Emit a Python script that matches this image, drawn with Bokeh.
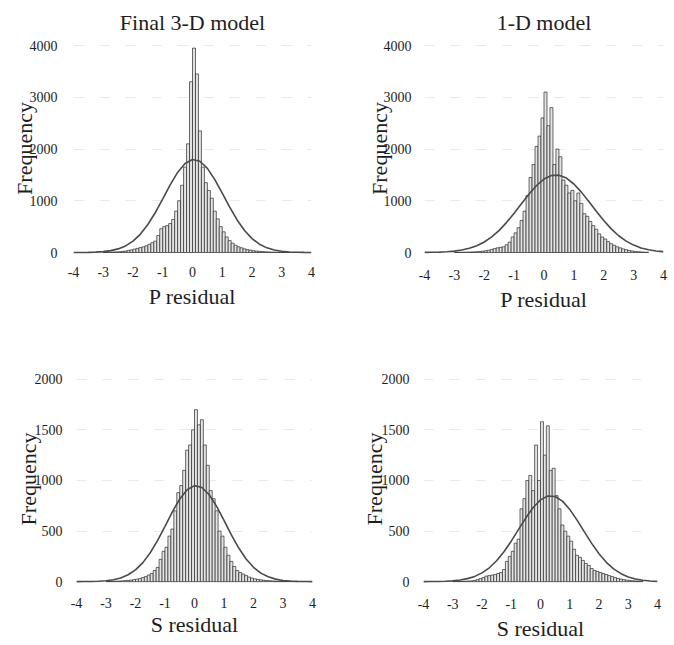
import numpy as np
from bokeh.plotting import figure
from bokeh.layouts import column, row
from bokeh.models import FixedTicker, Range1d
from bokeh.embed import file_html
from bokeh.resources import INLINE

# ---------------- data ----------------
titles = ["Final 3-D model", "1-D model", "", ""]
xlabels = ["P residual", "P residual", "S residual", "S residual"]
x_ticks = [-4, -3, -2, -1, 0, 1, 2, 3, 4]
y_ticks_p = [0, 1000, 2000, 3000, 4000]
y_ticks_s = [0, 500, 1000, 1500, 2000]

# histogram bins of width 0.1, centres -2.95 ... 3.45
bin_width = 0.1
bin_centers = np.round(np.arange(-2.95, 3.46, 0.1), 2)

p_final3d_counts = [5, 6, 8, 10, 12, 15, 20, 28, 40, 50,
                    65, 80, 95, 110, 130, 160, 190, 220, 330, 460,
                    500, 520, 560, 640, 800, 1000, 1300, 1650, 2100, 3300,
                    3950, 3450, 2350, 1650, 1350, 1200, 1050, 800, 650, 500,
                    400, 300, 230, 180, 140, 110, 90, 70, 55, 45,
                    35, 28, 22, 18, 14, 11, 9, 7, 6, 5,
                    4, 3, 3, 2, 2]
p_1d_counts = [3, 4, 5, 6, 8, 10, 12, 15, 20, 25,
               35, 45, 60, 75, 90, 100, 110, 150, 200, 300,
               380, 480, 620, 800, 1100, 1450, 1700, 2050, 2250, 2600,
               3100, 2450, 2800, 1700, 2000, 1850, 1400, 1300, 1150, 1200,
               1000, 1150, 950, 750, 700, 600, 520, 450, 360, 300,
               260, 210, 170, 140, 110, 90, 70, 55, 40, 30,
               22, 16, 11, 8, 6]
s_final3d_counts = [3, 3, 4, 5, 6, 8, 10, 12, 15, 20,
                    25, 30, 40, 50, 65, 80, 110, 140, 220, 300,
                    340, 450, 520, 700, 880, 950, 1100, 1300, 1350, 1500,
                    1700, 1550, 1600, 1350, 1150, 900, 820, 700, 500, 450,
                    340, 260, 200, 150, 110, 90, 75, 60, 45, 35,
                    28, 22, 18, 14, 11, 9, 7, 5, 4, 3,
                    3, 2, 2, 1, 1]
s_1d_counts = [2, 3, 3, 4, 5, 6, 8, 12, 20, 30,
               40, 55, 60, 65, 70, 80, 90, 120, 200, 250,
               300, 380, 420, 720, 820, 1000, 1050, 900, 1350, 1000,
               1580, 1250, 1540, 1100, 1120, 850, 720, 560, 500, 450,
               400, 320, 260, 240, 210, 180, 160, 130, 110, 100,
               90, 80, 70, 60, 50, 40, 32, 25, 20, 15,
               12, 9, 7, 5, 4]

# fitted normal curves, read at x = -4, -3.75, ..., 4
curve_x = [-4, -3.75, -3.5, -3.25, -3, -2.75, -2.5, -2.25, -2, -1.75, -1.5,
           -1.25, -1, -0.75, -0.5, -0.25, 0, 0.25, 0.5, 0.75, 1, 1.25, 1.5,
           1.75, 2, 2.25, 2.5, 2.75, 3, 3.25, 3.5, 3.75, 4]
p_final3d_curve = [0, 1, 3, 8, 17, 36, 70, 128, 220, 356, 541, 773, 1037, 1307,
                   1548, 1721, 1798, 1764, 1627, 1409, 1146, 876, 629, 424, 269,
                   160, 90, 47, 23, 11, 5, 2, 1]
p_1d_curve = [2, 4, 8, 15, 27, 48, 81, 131, 203, 301, 428, 583, 759, 948, 1132,
              1295, 1419, 1488, 1495, 1438, 1324, 1167, 986, 797, 617, 457, 324,
              220, 143, 89, 53, 30, 17]
s_final3d_curve = [0, 1, 2, 4, 9, 19, 37, 68, 116, 188, 286, 408, 547, 690, 817,
                   908, 949, 931, 859, 744, 605, 462, 332, 224, 142, 84, 48, 25,
                   12, 6, 3, 1, 0]
s_1d_curve = [0, 1, 2, 4, 8, 16, 30, 52, 87, 137, 207, 295, 400, 516, 631, 733,
              808, 847, 842, 796, 714, 608, 492, 378, 276, 191, 126, 79, 47, 26,
              14, 7, 3]

FONT = "Liberation Serif"
TXT = "#1e1e1e"


def panel(title, counts, curve, yticks, yr, w, h, bl, br, bt, bb,
          ylab_standoff, ytick_standoff, xtick_standoff, xlab_standoff, xlabel):
    p = figure(width=w, height=h, x_range=Range1d(-4, 4), y_range=Range1d(*yr),
               output_backend="svg", toolbar_location=None,
               min_border_left=bl, min_border_right=br,
               min_border_top=bt, min_border_bottom=bb,
               title=title if title else None)
    if title:
        p.title.text_font = FONT
        p.title.text_font_size = "22px"
        p.title.text_font_style = "normal"
        p.title.text_color = TXT
        p.title.align = "center"
        p.title.standoff = 12
    p.outline_line_color = None
    p.background_fill_color = "white"
    p.border_fill_color = "white"
    p.xgrid.grid_line_color = None
    p.ygrid.grid_line_color = "#dadada"
    p.ygrid.grid_line_dash = "10 16"
    p.ygrid.grid_line_alpha = 0.6
    p.ygrid.ticker = FixedTicker(ticks=yticks)

    p.vbar(x=bin_centers, width=bin_width, top=counts, bottom=0,
           fill_color="#e4e4e4", line_color="#2a2a2a", line_width=0.7)
    p.line(curve_x, curve, line_color="#4a4a4a", line_width=1.6)

    for ax in (p.xaxis, p.yaxis):
        ax.axis_line_color = None
        ax.major_tick_line_color = None
        ax.minor_tick_line_color = None
        ax.major_label_text_font = FONT
        ax.major_label_text_font_size = "14px"
        ax.major_label_text_color = TXT
        ax.axis_label_text_font = FONT
        ax.axis_label_text_font_size = "22px"
        ax.axis_label_text_font_style = "normal"
        ax.axis_label_text_color = TXT
    p.xaxis.ticker = FixedTicker(ticks=x_ticks)
    p.xaxis.major_label_overrides = {t: str(t) for t in x_ticks}
    p.xaxis.axis_label = xlabel
    p.xaxis.major_label_standoff = xtick_standoff
    p.xaxis.axis_label_standoff = xlab_standoff
    p.yaxis.ticker = FixedTicker(ticks=yticks)
    p.yaxis.major_label_overrides = {t: str(t) for t in yticks}
    p.yaxis.axis_label = "Frequency"
    p.yaxis.major_label_standoff = ytick_standoff
    p.yaxis.axis_label_standoff = ylab_standoff
    return p


p1 = panel(titles[0], p_final3d_counts, p_final3d_curve, y_ticks_p, (-77, 4097),
           337, 322, 73, 26, 40, 66, -10, 10, 4, 4, xlabels[0])
p2 = panel(titles[1], p_1d_counts, p_1d_curve, y_ticks_p, (-77, 4097),
           337, 322, 87, 11, 40, 66, -11, 7, 7, 4, xlabels[1])
p3 = panel(titles[2], s_final3d_counts, s_final3d_curve, y_ticks_s, (-38, 2067),
           337, 323, 76, 25, 44, 60, -9, 8, 6, 1, xlabels[2])
p4 = panel(titles[3], s_1d_counts, s_1d_curve, y_ticks_s, (-38, 2067),
           337, 323, 86, 17, 50, 54, -8, 8, 7, 4, xlabels[3])

layout = column(row(p1, p2), row(p3, p4))
open("out.html", "w").write(file_html(layout, INLINE))
